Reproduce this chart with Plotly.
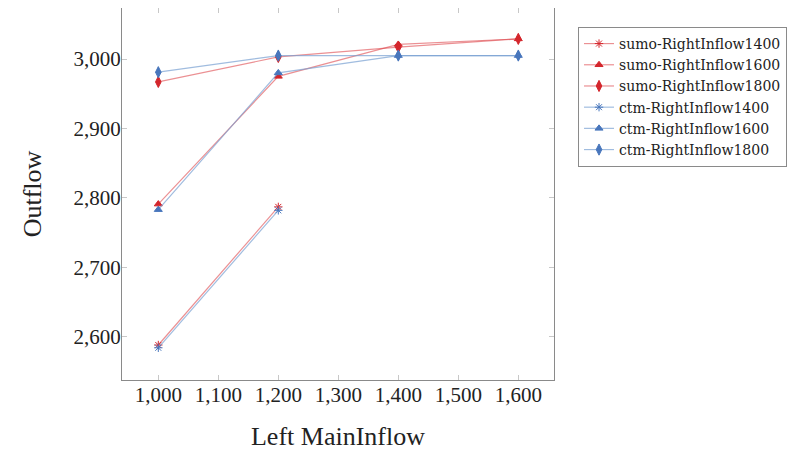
import plotly.graph_objects as go

# Left main inflow (x axis)
left_inflow = [1000, 1200, 1400, 1600]

# Outflow per series
sumo_1400 = [2588, 2787]
sumo_1600 = [2791, 2975, 3021, 3029]
sumo_1800 = [2967, 3003, 3017, 3029]
ctm_1400 = [2584, 2782]
ctm_1600 = [2783, 2980, 3005, 3005]
ctm_1800 = [2981, 3005, 3005, 3005]

RED_LINE = "rgba(222,70,75,0.6)"
RED_MARK = "rgb(212,38,44)"
BLUE_LINE = "rgba(120,160,210,0.7)"
BLUE_MARK = "rgb(72,118,188)"

series = [
    ("sumo-RightInflow1400", sumo_1400, RED_LINE, RED_MARK, "asterisk-open", 7),
    ("sumo-RightInflow1600", sumo_1600, RED_LINE, RED_MARK, "triangle-up", 7),
    ("sumo-RightInflow1800", sumo_1800, RED_LINE, RED_MARK, "diamond-tall", 8),
    ("ctm-RightInflow1400", ctm_1400, BLUE_LINE, BLUE_MARK, "asterisk-open", 7),
    ("ctm-RightInflow1600", ctm_1600, BLUE_LINE, BLUE_MARK, "triangle-up", 7),
    ("ctm-RightInflow1800", ctm_1800, BLUE_LINE, BLUE_MARK, "diamond-tall", 8),
]

SERIF = "Liberation Serif, serif"

fig = go.Figure()
for name, ys, lc, mc, sym, size in series:
    fig.add_trace(go.Scatter(
        x=left_inflow[:len(ys)],
        y=ys,
        name=name,
        mode="lines+markers",
        line=dict(color=lc, width=1.2),
        marker=dict(symbol=sym, size=size, color=mc, line=dict(color=mc, width=1)),
    ))

axis_common = dict(
    showline=True,
    linecolor="#8a8a8a",
    linewidth=1,
    mirror="allticks",
    ticks="inside",
    ticklen=5,
    tickcolor="#c8c8c8",
    showgrid=False,
    zeroline=False,
    tickfont=dict(family=SERIF, size=21, color="#222"),
    tickformat=",d",
)

fig.update_xaxes(
    range=[939.5, 1659.5],
    tickvals=[1000, 1100, 1200, 1300, 1400, 1500, 1600],
    ticklabelstandoff=-4,
    title=dict(text="Left MainInflow", font=dict(family=SERIF, size=26, color="#222"), standoff=20),
    **axis_common,
)
fig.update_yaxes(
    range=[2537.6, 3073.5],
    tickvals=[2600, 2700, 2800, 2900, 3000],
    ticklabelstandoff=-4,
    title=dict(text="Outflow", font=dict(family=SERIF, size=26, color="#222"), standoff=24),
    **axis_common,
)

# page body has an 8px margin, so the plot is placed 8px up/left of the target
fig.update_layout(
    width=801,
    height=467,
    margin=dict(l=114, r=255, t=0, b=95),
    plot_bgcolor="white",
    paper_bgcolor="white",
    font=dict(family=SERIF, color="#222"),
    legend=dict(
        x=1.0556,
        y=0.949,
        xanchor="left",
        yanchor="top",
        bordercolor="#8a8a8a",
        borderwidth=1,
        font=dict(family="DejaVu Serif", size=14, color="#222"),
        tracegroupgap=0,
        itemwidth=30,
    ),
)

fig.write_html("out.html")
